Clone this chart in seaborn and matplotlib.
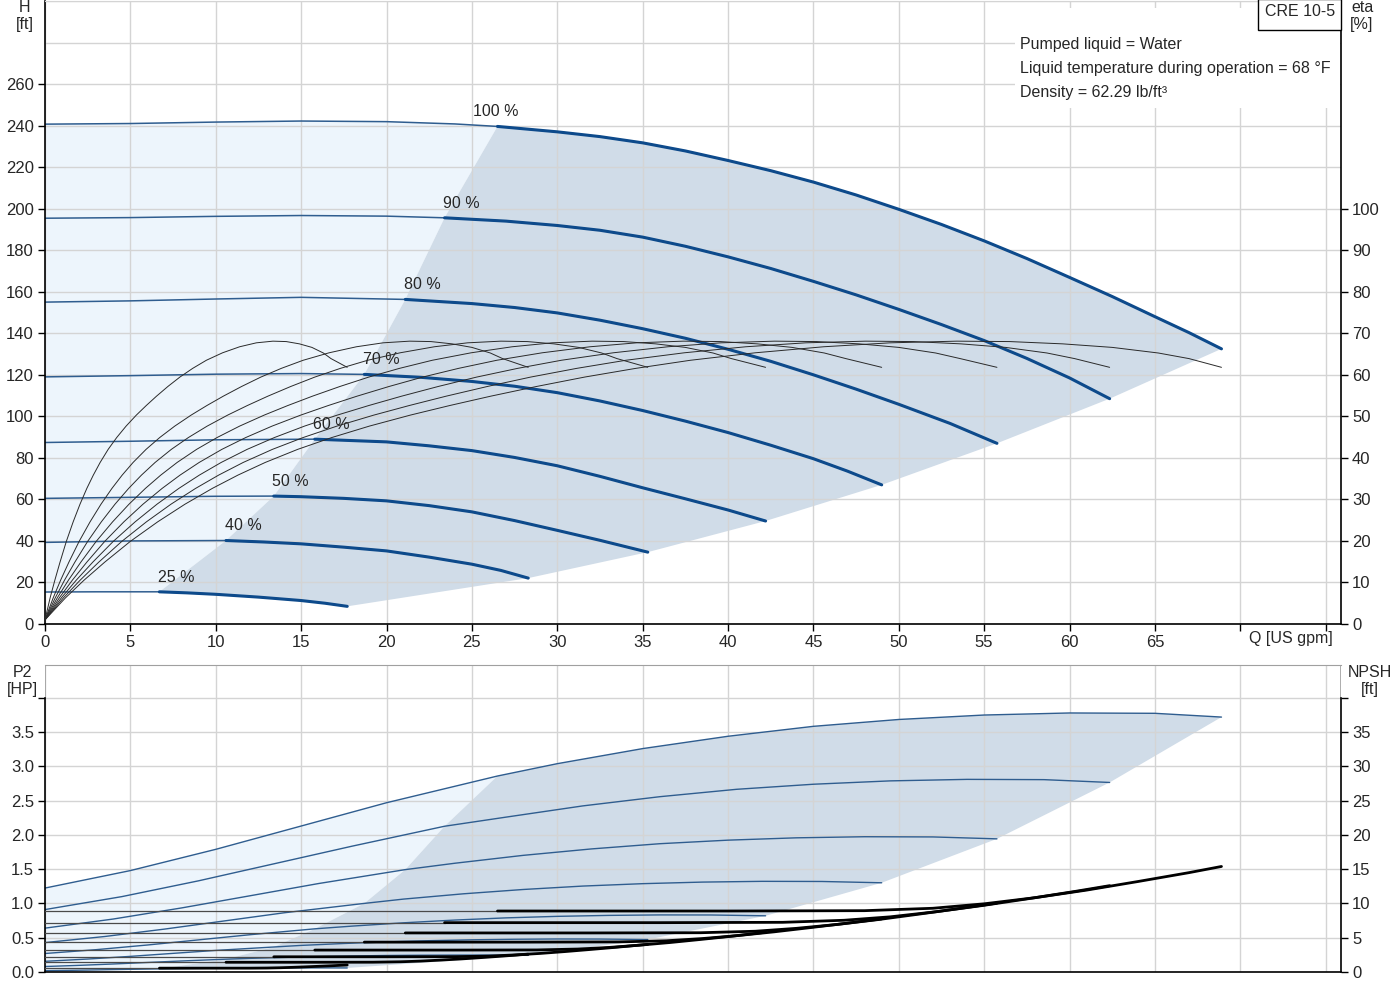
import numpy as np
import matplotlib
matplotlib.use("Agg")
import matplotlib.pyplot as plt
from matplotlib.patches import Rectangle
import seaborn as sns

# ---- data --------------------------------------------------------------
speed_labels = ["100 %", "90 %", "80 %", "70 %", "60 %", "50 %", "40 %", "25 %"]
# flow where each speed curve enters the operating range (thick part starts)
q_start = [26.5, 23.4, 21.1, 18.7, 15.8, 13.4, 10.6, 6.7]

# head H [ft] vs Q [US gpm]
head_q = [
    [0, 5, 10, 15, 20, 24, 26.5, 30, 32.5, 35, 37.5, 40, 42.5, 45, 47.5, 50, 52.5, 55, 57.5, 60, 62.5, 65, 67, 68.9],
    [0, 5, 10, 15, 20, 23.4, 27, 30, 32.5, 35, 37.5, 40, 42.5, 45, 47.5, 50, 52.5, 55, 57.5, 60, 62.35],
    [0, 5, 10, 15, 21.1, 25, 27.5, 30, 32.5, 35, 37.5, 40, 42.5, 45, 47.5, 50, 53, 55.75],
    [0, 5, 10, 15, 18.7, 22, 25, 27.5, 30, 32.5, 35, 37.5, 40, 42.5, 45, 47, 49],
    [0, 5, 10, 15.8, 20, 22.5, 25, 27.5, 30, 32.5, 35, 37.5, 40, 42.2],
    [0, 5, 10, 13.4, 15, 17.5, 20, 22.5, 25, 27.5, 30, 32.5, 35.3],
    [0, 5, 10.6, 12.8, 15, 17.5, 20, 22.5, 25, 26.7, 28.3],
    [0, 3, 6.7, 8.3, 10, 12.5, 15, 16.4, 17.7],
]
head_ft = [
    [240.7, 241.0, 241.7, 242.2, 241.9, 240.8, 239.6, 237.0, 234.7, 231.7, 227.8, 223.2, 218.3, 212.8, 206.6,
     199.7, 192.4, 184.5, 176.0, 166.9, 157.7, 148.0, 140.3, 132.5],
    [195.4, 195.7, 196.3, 196.7, 196.4, 195.6, 194.0, 191.9, 189.6, 186.3, 181.9, 176.8, 171.2, 165.0, 158.5,
     151.5, 144.2, 136.5, 127.9, 118.5, 108.5],
    [155.0, 155.6, 156.5, 157.3, 156.3, 154.3, 152.4, 149.8, 146.3, 142.2, 137.6, 132.3, 126.5, 120.0, 113.1,
     105.8, 96.6, 87.0],
    [119.0, 119.6, 120.3, 120.6, 120.2, 118.8, 116.8, 114.5, 111.4, 107.4, 102.8, 97.7, 92.2, 86.1, 79.6, 73.6, 67.0],
    [87.4, 88.0, 88.7, 89.0, 87.7, 85.8, 83.5, 80.2, 76.2, 71.1, 65.6, 60.3, 54.9, 49.6],
    [60.5, 61.0, 61.5, 61.6, 61.3, 60.5, 59.3, 57.0, 54.0, 49.8, 45.1, 40.3, 34.6],
    [39.3, 40.0, 40.2, 39.5, 38.6, 37.0, 35.2, 32.2, 28.8, 25.8, 22.1],
    [15.4, 15.5, 15.5, 15.0, 14.3, 12.95, 11.3, 10.0, 8.5],
]

# efficiency eta [%] (same shape for every speed, flow scaled with speed)
eta_q = [
    [0, 1.2, 2.3, 3.5, 5, 6.6, 8.2, 9.8, 11.3, 12.9, 14.8, 16.8, 19, 21.4, 23.7, 26.1, 28.8, 31.6, 34.6, 37.8,
     41.6, 45.6, 49.5, 53.4, 56.5, 59.6, 62.5, 65.2, 67, 68.9],
    [0, 1.08, 2.07, 3.15, 4.5, 5.94, 7.38, 8.82, 10.17, 11.61, 13.32, 15.12, 17.1, 19.26, 21.33, 23.49, 25.92,
     28.44, 31.14, 34.02, 37.44, 41.04, 44.55, 48.06, 50.85, 53.64, 56.25, 58.68, 60.3, 62.35],
    [0, 0.96, 1.84, 2.8, 4.0, 5.28, 6.56, 7.84, 9.04, 10.32, 11.84, 13.44, 15.2, 17.12, 18.96, 20.88, 23.04,
     25.28, 27.68, 30.24, 33.28, 36.48, 39.6, 42.72, 45.2, 47.68, 50.0, 52.16, 53.6, 55.75],
    [0, 0.84, 1.61, 2.45, 3.5, 4.62, 5.74, 6.86, 7.91, 9.03, 10.36, 11.76, 13.3, 14.98, 16.59, 18.27, 20.16,
     22.12, 24.22, 26.46, 29.12, 31.92, 34.65, 37.38, 39.55, 41.72, 43.75, 45.64, 46.9, 49.0],
    [0, 0.72, 1.38, 2.1, 3.0, 3.96, 4.92, 5.88, 6.78, 7.74, 8.88, 10.08, 11.4, 12.84, 14.22, 15.66, 17.28,
     18.96, 20.76, 22.68, 24.96, 27.36, 29.7, 32.04, 33.9, 35.76, 37.5, 39.12, 40.2, 42.2],
    [0, 0.6, 1.15, 1.75, 2.5, 3.3, 4.1, 4.9, 5.65, 6.45, 7.4, 8.4, 9.5, 10.7, 11.85, 13.05, 14.4,
     15.8, 17.3, 18.9, 20.8, 22.8, 24.75, 26.7, 28.25, 29.8, 31.25, 32.6, 33.5, 35.3],
    [0, 0.48, 0.92, 1.4, 2.0, 2.64, 3.28, 3.92, 4.52, 5.16, 5.92, 6.72, 7.6, 8.56, 9.48, 10.44, 11.52,
     12.64, 13.84, 15.12, 16.64, 18.24, 19.8, 21.36, 22.6, 23.84, 25.0, 26.08, 26.8, 28.3],
    [0, 0.3, 0.58, 0.88, 1.25, 1.65, 2.05, 2.45, 2.83, 3.23, 3.7, 4.2, 4.75, 5.35, 5.93, 6.53, 7.2,
     7.9, 8.65, 9.45, 10.4, 11.4, 12.38, 13.35, 14.13, 14.9, 15.63, 16.3, 16.75, 17.7],
]
eta_pct = [1, 6.3, 10.6, 14.9, 19.9, 24.6, 28.85, 32.65, 35.85, 38.9, 42.05, 44.9, 47.65, 50.3, 52.6,
           54.85, 57.2, 59.45, 61.55, 63.5, 65.3, 66.75, 67.7, 68.1, 68.0, 67.45, 66.6, 65.25, 63.9, 61.8]

# shaft power P2 [HP]
p2_q = [
    [0, 5, 10, 15, 20, 26.5, 30, 35, 40, 45, 50, 55, 60, 65, 68.9],
    [0, 4.5, 9, 13.5, 18, 23.4, 27, 31.5, 36, 40.5, 45, 49.5, 54, 58.5, 62.35],
    [0, 4, 8, 12, 16, 21.1, 24, 28, 32, 36, 40, 44, 48, 52, 55.75],
    [0, 3.5, 7, 10.5, 14, 18.7, 21, 24.5, 28, 31.5, 35, 38.5, 42, 45.5, 49],
    [0, 3, 6, 9, 12, 15.8, 18, 21, 24, 27, 30, 33, 36, 39, 42.2],
    [0, 2.5, 5, 7.5, 10, 13.4, 15, 17.5, 20, 22.5, 25, 27.5, 30, 32.5, 35.3],
    [0, 2, 4, 6, 8, 10.6, 12, 14, 16, 18, 20, 22, 24, 26, 28.3],
    [0, 1.25, 2.5, 3.75, 5, 6.7, 7.5, 8.75, 10, 11.25, 12.5, 13.75, 15, 16.25, 17.7],
]
p2_hp = [
    [1.225, 1.48, 1.79, 2.13, 2.47, 2.86, 3.04, 3.26, 3.44, 3.585, 3.685, 3.75, 3.78, 3.775, 3.72],
    [0.911, 1.10, 1.331, 1.584, 1.837, 2.127, 2.26, 2.424, 2.558, 2.666, 2.74, 2.789, 2.811, 2.807, 2.766],
    [0.640, 0.773, 0.935, 1.112, 1.290, 1.494, 1.587, 1.702, 1.796, 1.872, 1.924, 1.958, 1.974, 1.971, 1.943],
    [0.429, 0.518, 0.626, 0.745, 0.864, 1.001, 1.064, 1.141, 1.204, 1.254, 1.289, 1.312, 1.323, 1.321, 1.302],
    [0.270, 0.326, 0.394, 0.469, 0.544, 0.630, 0.670, 0.718, 0.758, 0.790, 0.812, 0.826, 0.833, 0.832, 0.820],
    [0.156, 0.189, 0.228, 0.272, 0.315, 0.365, 0.388, 0.416, 0.439, 0.457, 0.470, 0.478, 0.482, 0.481, 0.474],
    [0.080, 0.097, 0.117, 0.139, 0.161, 0.187, 0.199, 0.213, 0.225, 0.234, 0.241, 0.245, 0.247, 0.247, 0.243],
    [0.0195, 0.0235, 0.0285, 0.034, 0.039, 0.0455, 0.048, 0.052, 0.055, 0.057, 0.0585, 0.0596, 0.060, 0.060, 0.059],
]

# NPSH [ft]
npsh_q = [
    [0, 26.5, 40, 48, 52, 55, 58, 61, 64, 67, 68.9],
    [0, 23.4, 36, 43.2, 46.8, 49.5, 52.2, 54.9, 57.6, 60.3, 62.35],
    [0, 21.1, 32, 38.4, 41.6, 44, 46.4, 48.8, 51.2, 53.6, 55.75],
    [0, 18.7, 28, 33.6, 36.4, 38.5, 40.6, 42.7, 44.8, 46.9, 49.0],
    [0, 15.8, 24, 28.8, 31.2, 33, 34.8, 36.6, 38.4, 40.2, 42.2],
    [0, 13.4, 20, 24, 26, 27.5, 29, 30.5, 32, 33.5, 35.3],
    [0, 10.6, 16, 19.2, 20.8, 22, 23.2, 24.4, 25.6, 26.8, 28.3],
    [0, 6.7, 10, 12, 13, 13.75, 14.5, 15.25, 16, 16.75, 17.7],
]
npsh_ft = [
    [8.9, 8.9, 8.9, 8.95, 9.3, 9.95, 10.85, 11.95, 13.2, 14.5, 15.4],
    [7.2, 7.2, 7.2, 7.25, 7.55, 8.05, 8.8, 9.7, 10.7, 11.75, 12.6],
    [5.7, 5.7, 5.7, 5.73, 5.95, 6.37, 6.94, 7.65, 8.45, 9.28, 10.05],
    [4.36, 4.36, 4.36, 4.39, 4.56, 4.88, 5.32, 5.86, 6.47, 7.1, 7.75],
    [3.2, 3.2, 3.2, 3.22, 3.35, 3.58, 3.91, 4.3, 4.75, 5.22, 5.8],
    [2.22, 2.22, 2.22, 2.24, 2.32, 2.49, 2.71, 2.99, 3.3, 3.62, 4.04],
    [1.42, 1.42, 1.42, 1.43, 1.49, 1.59, 1.74, 1.91, 2.11, 2.32, 2.6],
    [0.56, 0.56, 0.56, 0.56, 0.58, 0.62, 0.68, 0.75, 0.83, 0.91, 1.02],
]

info_lines = ["Pumped liquid = Water",
              "Liquid temperature during operation = 68 \u00b0F",
              "Density = 62.29 lb/ft\u00b3"]
pump_name = "CRE 10-5"

# ---- style ---------------------------------------------------------------
sns.set_style("white")
plt.rcParams["font.family"] = ["Liberation Sans", "DejaVu Sans"]
plt.rcParams["font.size"] = 12

LIGHT = "#edf5fc"
DARK = "#d0dce8"
BLUE = "#0d4a8b"
THIN_BLUE = "#2f5d8f"
GRID = "#d4d4d4"
QMAX = 75.9
FS = 11.5


def curve(ax, x, y, **kw):
    sns.lineplot(x=x, y=y, ax=ax, sort=False, estimator=None, **kw)


def regions(q_lists, v_lists):
    # light area left of the operating range, dark area = operating range
    k = [q.index(s) for q, s in zip(q_lists, q_start)]
    lx = list(q_lists[0][:k[0] + 1])
    ly = list(v_lists[0][:k[0] + 1])
    for i in range(1, 8):
        lx.append(q_lists[i][k[i]])
        ly.append(v_lists[i][k[i]])
    lx += q_lists[7][:k[7]][::-1]
    ly += v_lists[7][:k[7]][::-1]

    dx = list(q_lists[0][k[0]:])
    dy = list(v_lists[0][k[0]:])
    for i in range(1, 7):
        dx.append(q_lists[i][-1])
        dy.append(v_lists[i][-1])
    dx += q_lists[7][k[7]:][::-1]
    dy += v_lists[7][k[7]:][::-1]
    for i in range(6, 0, -1):
        dx.append(q_lists[i][k[i]])
        dy.append(v_lists[i][k[i]])
    return (lx, ly), (dx, dy)


fig = plt.figure(figsize=(14, 10), dpi=100)
ax = fig.add_axes([45 / 1400, 0.376, 1296 / 1400, 0.623])
ax2 = fig.add_axes([45 / 1400, 0.028, 1296 / 1400, 0.307])

# ---- top panel: H and eta --------------------------------------------
(lx, ly), (dx, dy) = regions(head_q, head_ft)
ax.fill(lx, ly, color=LIGHT, lw=0, zorder=1)
ax.fill(dx, dy, color=DARK, lw=0, zorder=1)

for i in range(8):
    q, h = head_q[i], head_ft[i]
    k = q.index(q_start[i])
    curve(ax, q, h, color=THIN_BLUE, lw=1.1)
    curve(ax, q[k:], h[k:], color=BLUE, lw=2.2)
    ax.annotate(speed_labels[i], xy=(q[k], h[k]), xytext=(-1, 10.5),
                textcoords="offset points", ha="center" if i == 0 else "left",
                va="center", fontsize=FS, zorder=5)

ax.set_xlim(0, QMAX)
ax.set_ylim(0, 300)
ax.set_xticks(np.arange(0, 76, 5))
ax.set_xticklabels([str(v) if v <= 65 else "" for v in range(0, 76, 5)])
ax.set_yticks(np.arange(0, 261, 20))
ax.set_yticks([280, 300], minor=True)
ax.set_axisbelow("line")
ax.grid(True, which="both", color=GRID, lw=1)
ax.tick_params(axis="both", which="major", direction="out", length=5,
               width=1, color="black", labelsize=12, pad=3)
ax.tick_params(axis="y", which="minor", length=0)
ax.tick_params(axis="x", bottom=True)
ax.tick_params(axis="y", left=True)
for s in ["left", "bottom"]:
    ax.spines[s].set_color("black")
    ax.spines[s].set_linewidth(1.2)
ax.spines["top"].set_color(GRID)
ax.spines["right"].set_visible(False)
ax.set_xlabel("")
ax.set_ylabel("")

ax_eta = ax.twinx()
for i in range(8):
    curve(ax_eta, eta_q[i], eta_pct, color="#2a2a2a", lw=0.7)
ax_eta.set_ylim(0, 150)
ax_eta.set_yticks(np.arange(0, 101, 10))
ax_eta.tick_params(axis="y", right=True, direction="out", length=5, width=1,
                   color="black", labelsize=12, pad=3)
for s in ["top", "left", "bottom"]:
    ax_eta.spines[s].set_visible(False)
ax_eta.spines["right"].set_color("black")
ax_eta.spines["right"].set_linewidth(1.2)
ax_eta.grid(False)
ax_eta.set_ylabel("")

# ---- bottom panel: P2 and NPSH ---------------------------------------
(lx, ly), (dx, dy) = regions(p2_q, p2_hp)
ax2.fill(lx, ly, color=LIGHT, lw=0, zorder=1)
ax2.fill(dx, dy, color=DARK, lw=0, zorder=1)
for i in range(8):
    curve(ax2, p2_q[i], p2_hp[i], color=THIN_BLUE, lw=1.0)

ax2.set_xlim(0, QMAX)
ax2.set_ylim(0, 4.48)
ax2.set_xticks(np.arange(0, 76, 5))
ax2.set_xticklabels([])
ax2.set_yticks(np.arange(0, 4.01, 0.5))
ax2.set_yticklabels(["%.1f" % v for v in np.arange(0, 3.51, 0.5)] + [""])
ax2.set_axisbelow("line")
ax2.grid(True, color=GRID, lw=1)
ax2.tick_params(axis="x", length=0)
ax2.tick_params(axis="y", left=True, direction="out", length=5, width=1,
                color="black", labelsize=12, pad=3)
ax2.spines["left"].set_bounds(0, 4.0)
for s in ["left", "bottom"]:
    ax2.spines[s].set_color("black")
    ax2.spines[s].set_linewidth(1.2)
ax2.spines["top"].set_color("#a0a0a0")
ax2.spines["right"].set_visible(False)
ax2.axvline(0, ymin=4.0 / 4.48, color="#a0a0a0", lw=1.2)
ax2.axvline(QMAX, ymin=4.0 / 4.48, color="#a0a0a0", lw=1.2)
ax2.set_ylabel("")

ax_npsh = ax2.twinx()
for i in range(8):
    q, n = npsh_q[i], npsh_ft[i]
    k = q.index(q_start[i])
    curve(ax_npsh, q[:k + 1], n[:k + 1], color="#4a4a4a", lw=0.9)
    curve(ax_npsh, q[k:], n[k:], color="black", lw=2.0)
ax_npsh.set_ylim(0, 44.8)
ax_npsh.set_yticks(np.arange(0, 41, 5))
ax_npsh.set_yticklabels([str(v) for v in range(0, 36, 5)] + [""])
ax_npsh.tick_params(axis="y", right=True, direction="out", length=5, width=1,
                    color="black", labelsize=12, pad=3)
for s in ["top", "left", "bottom"]:
    ax_npsh.spines[s].set_visible(False)
ax_npsh.spines["right"].set_bounds(0, 40)
ax_npsh.spines["right"].set_color("black")
ax_npsh.spines["right"].set_linewidth(1.2)
ax_npsh.grid(False)
ax_npsh.set_ylabel("")

# ---- texts and boxes ---------------------------------------------------
fig.text(25 / 1400, 1 - 16 / 1000, "H\n[ft]", ha="center", va="center",
         multialignment="center", fontsize=FS, linespacing=1.15)
fig.text(1362 / 1400, 1 - 16 / 1000, "eta\n[%]", ha="center", va="center",
         multialignment="center", fontsize=FS, linespacing=1.15)
fig.text(22 / 1400, 1 - 681 / 1000, "P2\n[HP]", ha="center", va="center",
         multialignment="center", fontsize=FS, linespacing=1.15)
fig.text(1370 / 1400, 1 - 681 / 1000, "NPSH\n[ft]", ha="center", va="center",
         multialignment="center", fontsize=FS, linespacing=1.15)
fig.text(1333 / 1400, 1 - 639 / 1000, "Q [US gpm]", ha="right", va="center",
         fontsize=FS)

fig.add_artist(Rectangle((1015 / 1400, 1 - 108 / 1000), 325 / 1400, 100 / 1000,
                         transform=fig.transFigure, facecolor="white",
                         edgecolor="none", zorder=2))
for j, line in enumerate(info_lines):
    fig.text(1020 / 1400, 1 - (44 + 24 * j) / 1000, line, ha="left",
             va="center", fontsize=FS, zorder=3)

fig.add_artist(Rectangle((1258 / 1400, 1 - 30 / 1000), 83 / 1400, 31 / 1000,
                         transform=fig.transFigure, facecolor="white",
                         edgecolor="black", lw=1, zorder=2))
fig.text(1300 / 1400, 1 - 12 / 1000, pump_name, ha="center", va="center",
         fontsize=FS, zorder=3)

fig.savefig("out.png", dpi=100)
